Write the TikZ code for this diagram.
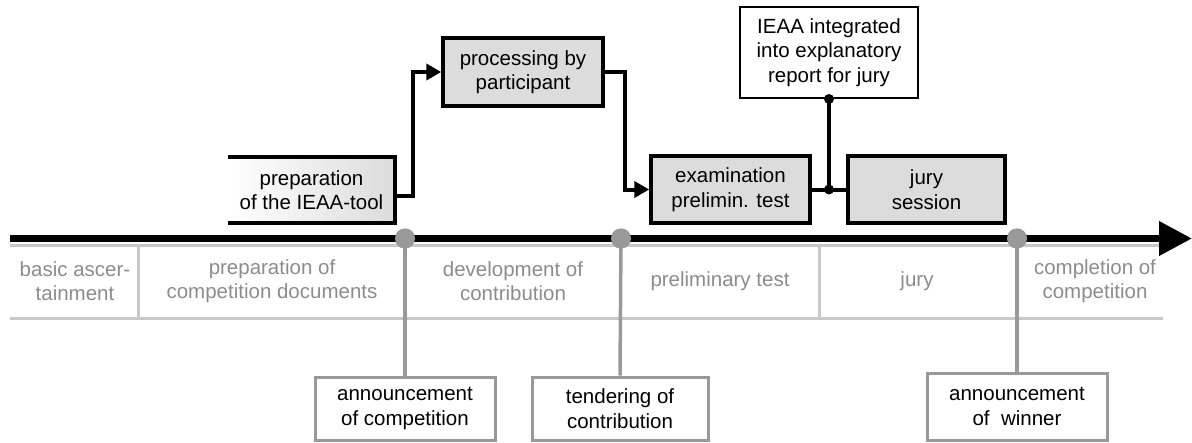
\documentclass[tikz,border=0pt]{standalone}
\usepackage{fontspec}
\setmainfont{Liberation Sans}
\usetikzlibrary{arrows.meta,calc}
\definecolor{boxfill}{HTML}{DCDCDC}
\definecolor{phasegray}{HTML}{8C8C8C}
\definecolor{polegray}{HTML}{999999}
\definecolor{tablegray}{HTML}{C8C8C8}
\begin{document}
\begin{tikzpicture}[x=1pt,y=-1pt,
  txt/.style={font=\fontsize{20.5}{24.5}\selectfont, align=center, inner sep=0pt},
  procbox/.style={txt, draw=black, line width=3.5pt, fill=boxfill},
  notebox/.style={txt, draw=black, line width=2pt, fill=white},
  markbox/.style={txt, draw=polegray, line width=3pt, fill=white},
  phase/.style={txt, text=phasegray},
  conn/.style={line width=4pt},
  tip/.style={-{Triangle[length=15pt,width=16pt]}},
  pole/.style={draw=polegray, line width=3.5pt},
  tline/.style={draw=tablegray, line width=3pt},
  milestone/.style={circle, fill=polegray, minimum size=20pt, inner sep=0pt},
  dot/.style={circle, fill=black, minimum size=10pt, inner sep=0pt}
  ]
\useasboundingbox (0,0) rectangle (1192,442);

% phase table
\draw[tline] (10,245) -- (1163,245);
\draw[tline] (10,318) -- (1163,318);
\draw[tline] (138,245) -- (138,318);
\draw[tline] (819,245) -- (819,318);

\node[phase] (p1) at (75,281) {basic ascer-\\tainment};
\node[phase] (p2) at (272,281) {preparation of\\competition documents};
\node[phase] (p3) at (513,281) {development of\\contribution};
\node[phase] (p4) at (720,281) {preliminary test};
\node[phase] (p5) at (917,281) {jury};
\node[phase] (p6) at (1095,281) {completion of\\competition};

% milestone boxes
\node[markbox, minimum width=180pt, minimum height=63pt] (ann) at (405,408.5) {announcement\\of competition};
\node[markbox, minimum width=176pt, minimum height=63pt] (tend) at (620,408.5) {tendering of\\contribution};
\node[markbox, minimum width=180pt, minimum height=67pt] (win) at (1017,406.5) {announcement\\of~~winner};

% milestones
\node[milestone] (m1) at (405,238.5) {};
\node[milestone] (m2) at (621,238.5) {};
\node[milestone] (m3) at (1017,238.5) {};
\draw[pole] (m1.center) -- (ann.north);
\draw[pole] (m2.center) -- (tend.north);
\draw[pole] (m3.center) -- (win.north);

% timeline
\coordinate (tl0) at (10,238.5);
\coordinate (tl1) at (1192,238.5);
\draw[line width=7pt, -{Triangle[length=33pt,width=33pt]}] (tl0) -- (tl1);
\node[milestone] at (m1) {};
\node[milestone] at (m2) {};
\node[milestone] at (m3) {};

% process boxes
\node[txt, minimum width=167pt, minimum height=66pt, shading=axis, left color=white, right color=boxfill] (prep) at (311.5,190) {preparation\\of the IEAA-tool};
\draw[line width=3.5pt] (prep.north west) -- (prep.north east) -- (prep.south east) -- (prep.south west);
\node[procbox, minimum width=160pt, minimum height=68pt] (proc) at (523,72) {processing by\\participant};
\node[procbox, minimum width=159pt, minimum height=67pt] (exam) at (730.5,189.5) {examination\\prelimin. test};
\node[procbox, minimum width=157pt, minimum height=67pt] (jury) at (926.5,189.5) {jury\\session};
\node[notebox, minimum width=178pt, minimum height=91pt] (ieaa) at (829,52.5) {IEAA integrated\\into explanatory\\report for jury};

% connectors
\draw[conn, tip] ([yshift=-6pt]prep.east) -- ++(18,0) |- (proc.west);
\draw[conn, tip] (proc.east) -- ++(20,0) |- (exam.west);
\coordinate (j) at ($(exam.east)!0.5!(jury.west)$);
\draw[conn] (exam.east) -- (jury.west);
\draw[conn] (j) -- (j |- ieaa.south);
\node[dot] (d1) at (j) {};
\node[dot] (d2) at (j |- ieaa.south) {};
\end{tikzpicture}
\end{document}
